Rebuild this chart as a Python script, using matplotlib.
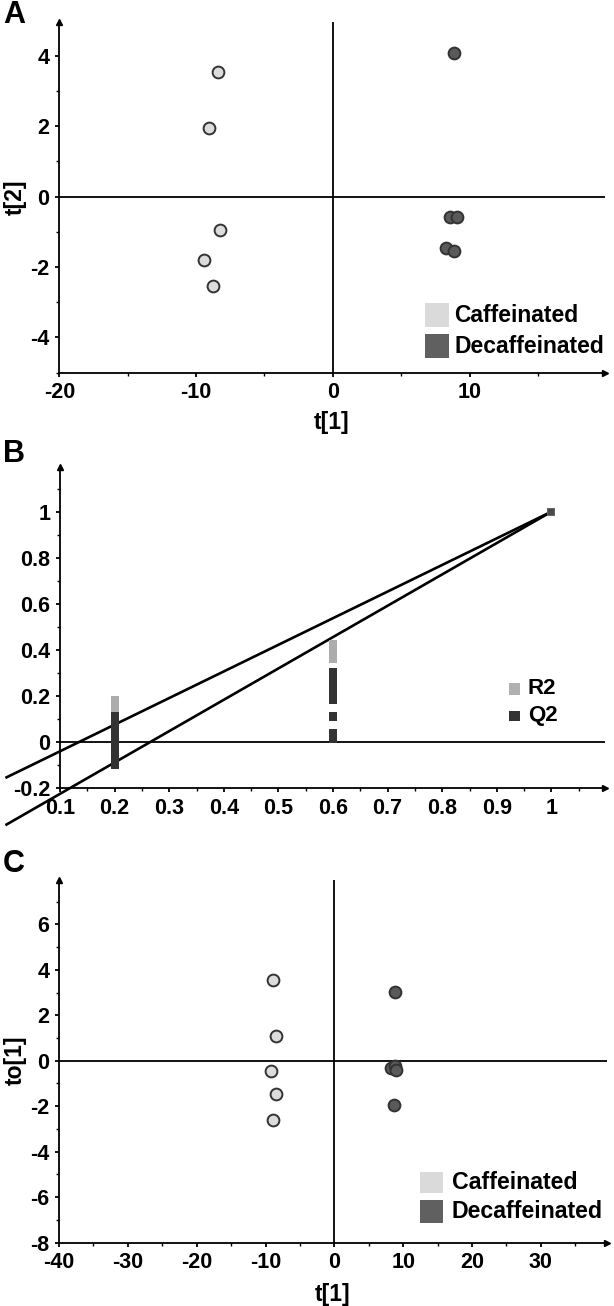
import matplotlib
matplotlib.use('Agg')
import matplotlib.pyplot as plt
from matplotlib.patches import Rectangle
from matplotlib.ticker import MultipleLocator, FuncFormatter

plt.rcParams['font.family'] = ['Liberation Sans', 'DejaVu Sans']
plt.rcParams['font.weight'] = 'bold'
plt.rcParams['axes.unicode_minus'] = False

# ---------------- data ----------------
groups = ["Caffeinated", "Decaffeinated"]

# Panel A: scores t[1] vs t[2]
a_caf_t1 = [-8.4, -9.08, -8.25, -9.4, -8.74]
a_caf_t2 = [3.53, 1.94, -0.95, -1.8, -2.53]
a_dec_t1 = [8.88, 8.54, 9.05, 8.25, 8.85]
a_dec_t2 = [4.09, -0.58, -0.59, -1.46, -1.54]

# Panel B: permutation test
r2_perm_x = [0.2, 0.2, 0.2, 0.2, 0.2, 0.6, 0.6, 0.6, 0.6, 0.6, 0.6]
r2_perm_y = [0.182, 0.172, 0.162, 0.152, 0.143, 0.427, 0.414, 0.401, 0.388, 0.375, 0.362]
q2_perm_x = [0.2] * 18 + [0.6] * 16
q2_perm_y = [0.113, 0.1, 0.087, 0.074, 0.061, 0.048, 0.035, 0.022, 0.009,
             -0.004, -0.017, -0.03, -0.043, -0.056, -0.069, -0.082, -0.095, -0.101,
             0.304, 0.291, 0.278, 0.265, 0.252, 0.239, 0.226, 0.213, 0.2, 0.187, 0.182,
             0.113, 0.111, 0.04, 0.027, 0.015]
orig_x = [1.0]
orig_r2 = [1.0]
orig_q2 = [1.0]
r2_intercept = -0.155
q2_intercept = -0.36

# Panel C: t[1] vs to[1]
c_caf_t1 = [-8.88, -8.54, -9.22, -8.43, -8.88]
c_caf_to1 = [3.55, 1.10, -0.47, -1.47, -2.61]
c_dec_t1 = [8.77, 8.2, 8.77, 8.88, 8.66]
c_dec_to1 = [3.02, -0.32, -0.22, -0.41, -1.95]

# ---------------- figure ----------------
W, H = 614, 1306
fig = plt.figure(figsize=(W / 100, H / 100), dpi=100)


def box(left, top, right, bottom):
    return [left / W, 1 - bottom / H, (right - left) / W, (bottom - top) / H]


def ftext(px, py, s, **kw):
    fig.text(px / W, 1 - py / H, s, ha='center', va='center', **kw)


LW = 1.3
TICK_FS = 15.5
LABEL_FS = 16.5
LETTER_FS = 22


def style(ax, xlim, ylim, xmaj, xmin, ymaj, ymin):
    ax.set_xlim(*xlim)
    ax.set_ylim(*ylim)
    for s in ['top', 'right']:
        ax.spines[s].set_visible(False)
    for s in ['left', 'bottom']:
        ax.spines[s].set_linewidth(LW)
    ax.plot(1, 0, '>k', ms=5, transform=ax.transAxes, clip_on=False)
    ax.plot(0, 1, '^k', ms=5, transform=ax.transAxes, clip_on=False)
    ax.xaxis.set_major_locator(MultipleLocator(xmaj))
    ax.xaxis.set_minor_locator(MultipleLocator(xmin))
    ax.yaxis.set_major_locator(MultipleLocator(ymaj))
    ax.yaxis.set_minor_locator(MultipleLocator(ymin))
    fmt = FuncFormatter(lambda v, p: ('%g' % round(v, 6)))
    ax.xaxis.set_major_formatter(fmt)
    ax.yaxis.set_major_formatter(fmt)
    ax.tick_params(which='major', direction='out', length=3, width=LW,
                   labelsize=TICK_FS, pad=4)
    ax.tick_params(which='minor', direction='out', length=2, width=1.0)
    ax.set_facecolor('none')


def legend_boxes(ax, x0, x1, boxes, texts, tx, tys, fs, colors):
    for (yb, yt), c in zip(boxes, colors):
        ax.add_patch(Rectangle((x0, yb), x1 - x0, yt - yb, transform=ax.transAxes,
                               facecolor=c, edgecolor='none', clip_on=False))
    for t, ty in zip(texts, tys):
        ax.text(tx, ty, t, transform=ax.transAxes, ha='left', va='center',
                fontsize=fs, fontweight='bold')


CAF_FILL = '#dcdcdc'
DEC_FILL = '#5a5a5a'
EDGE = '#333333'
MS = 72

# ---- Panel A ----
axA = fig.add_axes(box(59.3, 21.7, 605, 372.7))
style(axA, (-20, 19.9), (-5, 4.97), 10, 5, 2, 1)
axA.axhline(0, color='k', lw=LW, zorder=1)
axA.axvline(0, color='k', lw=LW, zorder=1)
axA.scatter(a_caf_t1, a_caf_t2, s=MS, c=CAF_FILL, edgecolors=EDGE, linewidths=1.4, zorder=3)
axA.scatter(a_dec_t1, a_dec_t2, s=MS, c=DEC_FILL, edgecolors=EDGE, linewidths=1.4, zorder=3)
legend_boxes(axA, 0.670, 0.714, [(0.130, 0.1986), (0.043, 0.109)], groups,
             0.7235, [0.163, 0.076], 16.5, ['#dadada', '#606060'])
ftext(14, 15, 'A', fontsize=LETTER_FS, fontweight='bold')
ftext(15.5, 197, 't[2]', fontsize=LABEL_FS, fontweight='bold', rotation=90)
ftext(332, 423, 't[1]', fontsize=LABEL_FS, fontweight='bold')

# ---- Panel B ----
axB = fig.add_axes(box(60, 466.7, 605, 788.3))
style(axB, (0.1, 1.098), (-0.2, 1.195), 0.1, 0.05, 0.2, 0.1)
axB.axhline(0, color='k', lw=LW, zorder=1)
axB.plot([0, orig_x[0]], [r2_intercept, orig_r2[0]], color='k', lw=1.9,
         clip_on=False, zorder=2, solid_capstyle='butt')
axB.plot([0, orig_x[0]], [q2_intercept, orig_q2[0]], color='k', lw=1.9,
         clip_on=False, zorder=2, solid_capstyle='butt')
axB.scatter(r2_perm_x, r2_perm_y, marker='s', s=32, c='#acacac', linewidths=0, zorder=3)
axB.scatter(q2_perm_x, q2_perm_y, marker='s', s=32, c='#333333', linewidths=0, zorder=3)
axB.scatter(orig_x, orig_r2, marker='s', s=34, c='#666666', linewidths=0, zorder=3, clip_on=False)
axB.scatter(orig_x, orig_q2, marker='s', s=24, c='#4a4a4a', linewidths=0, zorder=4, clip_on=False)
legend_boxes(axB, 0.8239, 0.8440, [(0.290, 0.3284), (0.210, 0.240)], ['R2', 'Q2'],
             0.8587, [0.309, 0.225], 16, ['#b0b0b0', '#333333'])
ftext(14, 454, 'B', fontsize=LETTER_FS, fontweight='bold')

# ---- Panel C ----
axC = fig.add_axes(box(59, 880, 607, 1242.6))
style(axC, (-40, 39.6), (-8, 7.95), 10, 5, 2, 1)
axC.axhline(0, color='k', lw=LW, zorder=1)
axC.axvline(0, color='k', lw=LW, zorder=1)
axC.scatter(c_caf_t1, c_caf_to1, s=MS, c=CAF_FILL, edgecolors=EDGE, linewidths=1.4, zorder=3)
axC.scatter(c_dec_t1, c_dec_to1, s=MS, c=DEC_FILL, edgecolors=EDGE, linewidths=1.4, zorder=3)
legend_boxes(axC, 0.659, 0.700, [(0.136, 0.1955), (0.055, 0.1175)], groups,
             0.717, [0.1657, 0.087], 16.7, ['#dadada', '#606060'])
ftext(14, 864, 'C', fontsize=LETTER_FS, fontweight='bold')
ftext(15, 1060, 'to[1]', fontsize=LABEL_FS, fontweight='bold', rotation=90)
ftext(333, 1294, 't[1]', fontsize=LABEL_FS, fontweight='bold')

fig.savefig('out.png', dpi=100)
